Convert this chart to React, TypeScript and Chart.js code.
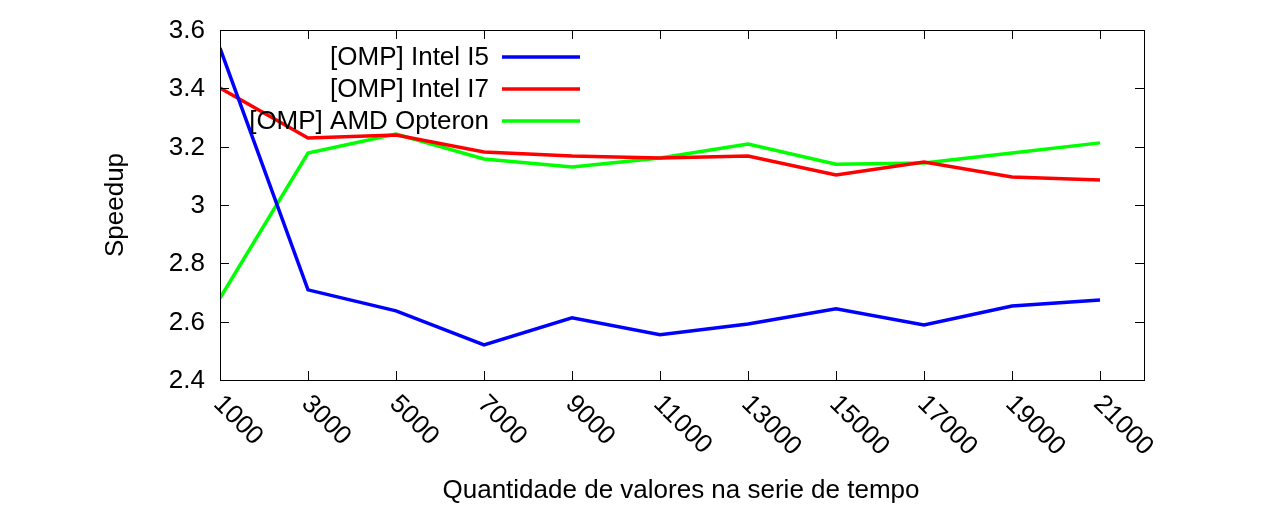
import React, { useEffect, useRef } from "react";
import { Chart, registerables } from "chart.js";
Chart.register(...registerables);

const xValues = [1000, 3000, 5000, 7000, 9000, 11000, 13000, 15000, 17000, 19000, 21000];
const i5 = [3.538, 2.709, 2.637, 2.52, 2.613, 2.555, 2.592, 2.644, 2.589, 2.654, 2.674];
const i7 = [3.401, 3.23, 3.24, 3.182, 3.168, 3.161, 3.168, 3.103, 3.147, 3.096, 3.086];
const amd = [2.681, 3.178, 3.243, 3.158, 3.13, 3.161, 3.209, 3.14, 3.144, 3.178, 3.213];
const yTicks = [2.4, 2.6, 2.8, 3, 3.2, 3.4, 3.6];
const seriesNames = ["[OMP] Intel I5", "[OMP] Intel I7", "[OMP] AMD Opteron"];
const colors = ["#0000ff", "#ff0000", "#00ff00"];

const FONT = "26px 'Liberation Sans', Arial, sans-serif";

const deco = {
  id: "deco",
  afterDraw(chart: any) {
    const { ctx, chartArea: a, scales } = chart;
    const xs = scales.x, ys = scales.y;
    ctx.save();
    ctx.strokeStyle = "#000";
    ctx.lineWidth = 1;
    ctx.strokeRect(a.left + 0.5, a.top + 0.5, a.right - a.left, a.bottom - a.top);
    ctx.fillStyle = "#000";
    ctx.font = FONT;
    ctx.textAlign = "right";
    ctx.textBaseline = "middle";
    for (const t of yTicks) {
      const y = Math.round(ys.getPixelForValue(t)) + 0.5;
      ctx.beginPath();
      ctx.moveTo(a.left, y); ctx.lineTo(a.left + 9, y);
      ctx.moveTo(a.right, y); ctx.lineTo(a.right - 9, y);
      ctx.stroke();
      ctx.fillText(String(t), a.left - 15, y);
    }
    for (const t of xValues) {
      const x = Math.round(xs.getPixelForValue(t)) + 0.5;
      ctx.beginPath();
      ctx.moveTo(x, a.bottom); ctx.lineTo(x, a.bottom - 9);
      ctx.moveTo(x, a.top); ctx.lineTo(x, a.top + 9);
      ctx.stroke();
      ctx.save();
      ctx.translate(x - 3, a.bottom + 20);
      ctx.rotate(Math.PI / 4);
      ctx.textAlign = "left";
      ctx.fillText(String(t), 0, 0);
      ctx.restore();
    }
    ctx.textAlign = "center";
    ctx.fillText("Quantidade de valores na serie de tempo", (a.left + a.right) / 2 - 1, 491);
    ctx.save();
    ctx.translate(116, (a.top + a.bottom) / 2);
    ctx.rotate(-Math.PI / 2);
    ctx.fillText("Speedup", 0, 0);
    ctx.restore();
    ctx.textAlign = "right";
    seriesNames.forEach((n, i) => {
      const y = 58 + i * 32;
      ctx.fillStyle = "#000";
      ctx.fillText(n, 489, y);
      ctx.strokeStyle = colors[i];
      ctx.lineWidth = 3.5;
      ctx.beginPath();
      ctx.moveTo(502, y - 1); ctx.lineTo(580, y - 1);
      ctx.stroke();
    });
    ctx.restore();
  },
};

export default function App() {
  const ref = useRef<HTMLCanvasElement>(null);
  useEffect(() => {
    const mk = (d: number[]) => xValues.map((x, i) => ({ x, y: d[i] }));
    const chart = new Chart(ref.current!, {
      type: "line",
      data: {
        datasets: [i5, i7, amd].map((d, i) => ({
          label: seriesNames[i],
          data: mk(d),
          borderColor: colors[i],
          borderWidth: 3.5,
          pointRadius: 0,
          tension: 0,
        })),
      },
      options: {
        animation: false,
        responsive: false,
        layout: { padding: { left: 220, right: 136, top: 30, bottom: 132 } },
        plugins: { legend: { display: false }, tooltip: { enabled: false } },
        scales: {
          x: { type: "linear", min: 1000, max: 22000, display: false },
          y: { min: 2.4, max: 3.6, display: false },
        },
      },
      plugins: [deco],
    });
    return () => chart.destroy();
  }, []);
  return (
    <div style={{ position: "absolute", left: 0, top: 0, background: "#fff" }}>
      <canvas ref={ref} width={1280} height={512} style={{ width: 1280, height: 512 }} />
    </div>
  );
}
